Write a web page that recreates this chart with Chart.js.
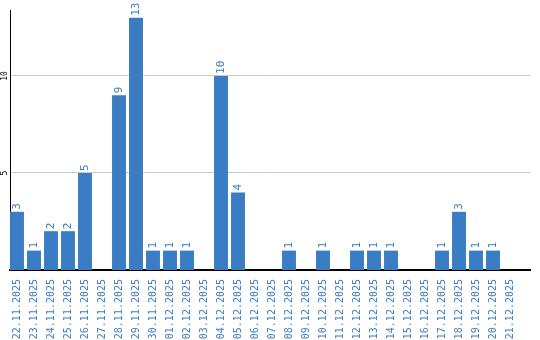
<!DOCTYPE html>
<html>
<head>
<script src="https://cdn.jsdelivr.net/npm/chart.js"></script>
<style>
  html, body { margin: 0; padding: 0; background: #fff; }
  #wrap { width: 540px; height: 340px; }
</style>
</head>
<body>
<div id="wrap"><canvas id="chart"></canvas></div>
<script>
var days = ['22.11.2025','23.11.2025','24.11.2025','25.11.2025','26.11.2025','27.11.2025',
  '28.11.2025','29.11.2025','30.11.2025','01.12.2025','02.12.2025','03.12.2025','04.12.2025',
  '05.12.2025','06.12.2025','07.12.2025','08.12.2025','09.12.2025','10.12.2025','11.12.2025',
  '12.12.2025','13.12.2025','14.12.2025','15.12.2025','16.12.2025','17.12.2025','18.12.2025',
  '19.12.2025','20.12.2025','21.12.2025'];
var counts = [3,1,2,2,5,0,9,13,1,1,1,0,10,4,0,0,1,0,1,0,1,1,1,0,0,1,3,1,1,0];
var yTicks = [5, 10];

var blue = '#3b7dc4';

// bars sit at day index on a linear axis; the plot leaves spare room on the right
var points = counts.map(function (v, i) { return { x: i, y: v }; });

// value labels above bars, rotated to read bottom-up
var barLabels = {
  id: 'barLabels',
  afterDatasetsDraw: function (chart) {
    var ctx = chart.ctx;
    var meta = chart.getDatasetMeta(0);
    ctx.save();
    ctx.fillStyle = blue;
    ctx.font = '11px "DejaVu Sans Mono"';
    ctx.textAlign = 'left';
    ctx.textBaseline = 'middle';
    meta.data.forEach(function (bar, i) {
      var v = counts[i];
      if (!v) return;
      ctx.save();
      ctx.translate(bar.x, bar.y - 2);
      ctx.rotate(-Math.PI / 2);
      ctx.fillText(String(v), 0, 0);
      ctx.restore();
    });
    ctx.restore();
  }
};

new Chart(document.getElementById('chart'), {
  type: 'bar',
  data: {
    datasets: [{
      data: points,
      backgroundColor: blue,
      categoryPercentage: 0.82,
      barPercentage: 1
    }]
  },
  options: {
    responsive: true,
    maintainAspectRatio: false,
    animation: false,
    layout: { padding: { top: 10, right: 10, left: 0, bottom: 0 } },
    plugins: { legend: { display: false }, tooltip: { enabled: false } },
    scales: {
      x: {
        type: 'linear',
        offset: false,
        min: -7 / 17,
        max: -7 / 17 + 520 / 17,
        grid: { display: false },
        border: { color: '#000', width: 2 },
        afterBuildTicks: function (s) {
          s.ticks = days.map(function (d, i) { return { value: i }; });
        },
        ticks: {
          color: blue,
          font: { family: 'DejaVu Sans Mono', size: 10 },
          minRotation: 90, maxRotation: 90,
          autoSkip: false,
          padding: 1,
          callback: function (v) { return days[v]; }
        },
        afterFit: function (s) { s.height = 70; }
      },
      y: {
        min: 0, max: 13.4,
        grid: { color: '#c8c8c8', drawTicks: false },
        border: { color: '#000', width: 1 },
        afterBuildTicks: function (s) {
          s.ticks = yTicks.map(function (v) { return { value: v }; });
        },
        ticks: {
          color: '#000',
          font: { family: 'DejaVu Sans Mono', size: 8 },
          minRotation: 90, maxRotation: 90,
          crossAlign: 'center',
          padding: 0
        },
        afterFit: function (s) { s.width = 10; }
      }
    }
  },
  plugins: [barLabels]
});
</script>
</body>
</html>
